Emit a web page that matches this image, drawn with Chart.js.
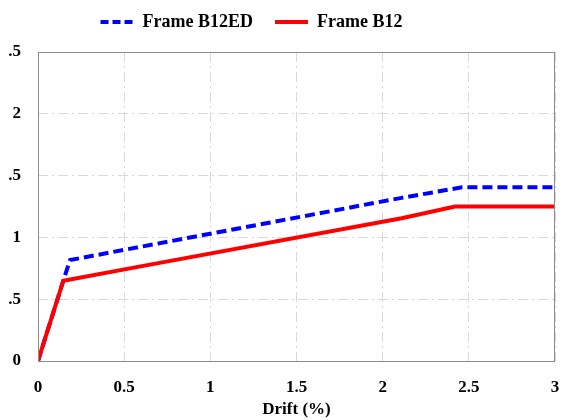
<!DOCTYPE html>
<html lang="en">
<head>
  <meta charset="UTF-8">
  <title>Drift chart</title>
  <script src="https://cdn.jsdelivr.net/npm/chart.js"></script>
  <style>
    body { margin: 0; background: #fff; }
    #wrap { width: 561px; height: 420px; }
  </style>
</head>
<body>
  <div id="wrap"><canvas id="myChart" width="561" height="420"></canvas></div>

  <script>
    // data
    const driftB12ED = [0, 0.147, 0.186, 2.11, 2.46, 3];
    const forceB12ED = [0, 0.65, 0.817, 1.32, 1.405, 1.405];
    const driftB12 = [0, 0.147, 0.65, 2.11, 2.42, 3];
    const forceB12 = [0, 0.65, 0.78, 1.155, 1.25, 1.25];
    const yTickLabels = ['0', '.5', '1', '.5', '2', '.5'];
    const xTickLabels = ['0', '0.5', '1', '1.5', '2', '2.5', '3'];

    const toPoints = (xs, ys) => xs.map((x, i) => ({ x: x, y: ys[i] }));

    // box around the plot area
    const frameBox = {
      id: 'frameBox',
      afterDraw(chart) {
        const a = chart.chartArea;
        const ctx = chart.ctx;
        ctx.save();
        ctx.strokeStyle = '#8c8c8c';
        ctx.lineWidth = 1;
        ctx.strokeRect(a.left + 0.5, a.top + 0.5, a.right - a.left - 1, a.bottom - a.top);
        ctx.restore();
      }
    };

    // legend sits a bit left of centre and higher up in the original
    const legendShift = {
      id: 'legendShift',
      afterLayout(chart) {
        const lg = chart.legend;
        const h = lg.bottom - lg.top;
        lg.left -= 26;
        lg.right -= 26;
        lg.top = -9;
        lg.bottom = lg.top + h;
      }
    };

    const font = { family: '"Liberation Serif", "Times New Roman", serif', weight: 'bold' };

    const ctx = document.getElementById('myChart').getContext('2d');
    const myChart = new Chart(ctx, {
      type: 'line',
      data: {
        datasets: [{
          label: 'Frame B12ED',
          data: toPoints(driftB12ED, forceB12ED),
          borderColor: '#0000ff',
          borderWidth: 4,
          borderDash: [10, 5],
          pointRadius: 0,
          fill: false,
          order: 1
        }, {
          label: 'Frame B12',
          data: toPoints(driftB12, forceB12),
          borderColor: '#ff0000',
          borderWidth: 4,
          pointRadius: 0,
          fill: false,
          order: 0
        }]
      },
      options: {
        responsive: false,
        animation: false,
        layout: { padding: { top: -9, right: 6, left: 0, bottom: 0 } },
        plugins: {
          legend: {
            position: 'top',
            labels: {
              usePointStyle: true,
              pointStyle: 'line',
              pointStyleWidth: 33,
              padding: 22,
              color: '#000',
              font: { ...font, size: 18 },
              sort: (a, b) => a.datasetIndex - b.datasetIndex,
              generateLabels: chart => {
                const items = Chart.defaults.plugins.legend.labels.generateLabels(chart);
                items.forEach(it => {
                  const ds = chart.data.datasets[it.datasetIndex];
                  it.lineWidth = 4;
                  it.strokeStyle = ds.borderColor;
                  it.lineDash = ds.borderDash ? [8, 4] : [];
                });
                return items;
              }
            }
          },
          tooltip: { enabled: false }
        },
        scales: {
          x: {
            type: 'linear',
            min: 0,
            max: 3,
            grid: { color: '#d9d9d9', drawTicks: false },
            border: { display: false, dash: [10, 4, 2, 4] },
            ticks: {
              stepSize: 0.5,
              padding: 16,
              color: '#000',
              font: { ...font, size: 17 },
              callback: (v, i) => xTickLabels[i]
            },
            title: {
              display: true,
              text: 'Drift (%)',
              color: '#000',
              font: { ...font, size: 17 },
              padding: { top: 5, bottom: 0 }
            },
            afterFit: s => { s.height = 59; s.paddingRight = 0; }
          },
          y: {
            min: 0,
            max: 2.5,
            grid: { color: '#d9d9d9', drawTicks: false },
            border: { display: false, dash: [10, 4, 2, 4] },
            ticks: {
              stepSize: 0.5,
              padding: 17,
              color: '#000',
              font: { ...font, size: 17 },
              callback: (v, i) => yTickLabels[i]
            },
            afterFit: s => { s.width = 38; s.paddingTop = 52; }
          }
        }
      },
      plugins: [frameBox, legendShift]
    });
  </script>
</body>
</html>
